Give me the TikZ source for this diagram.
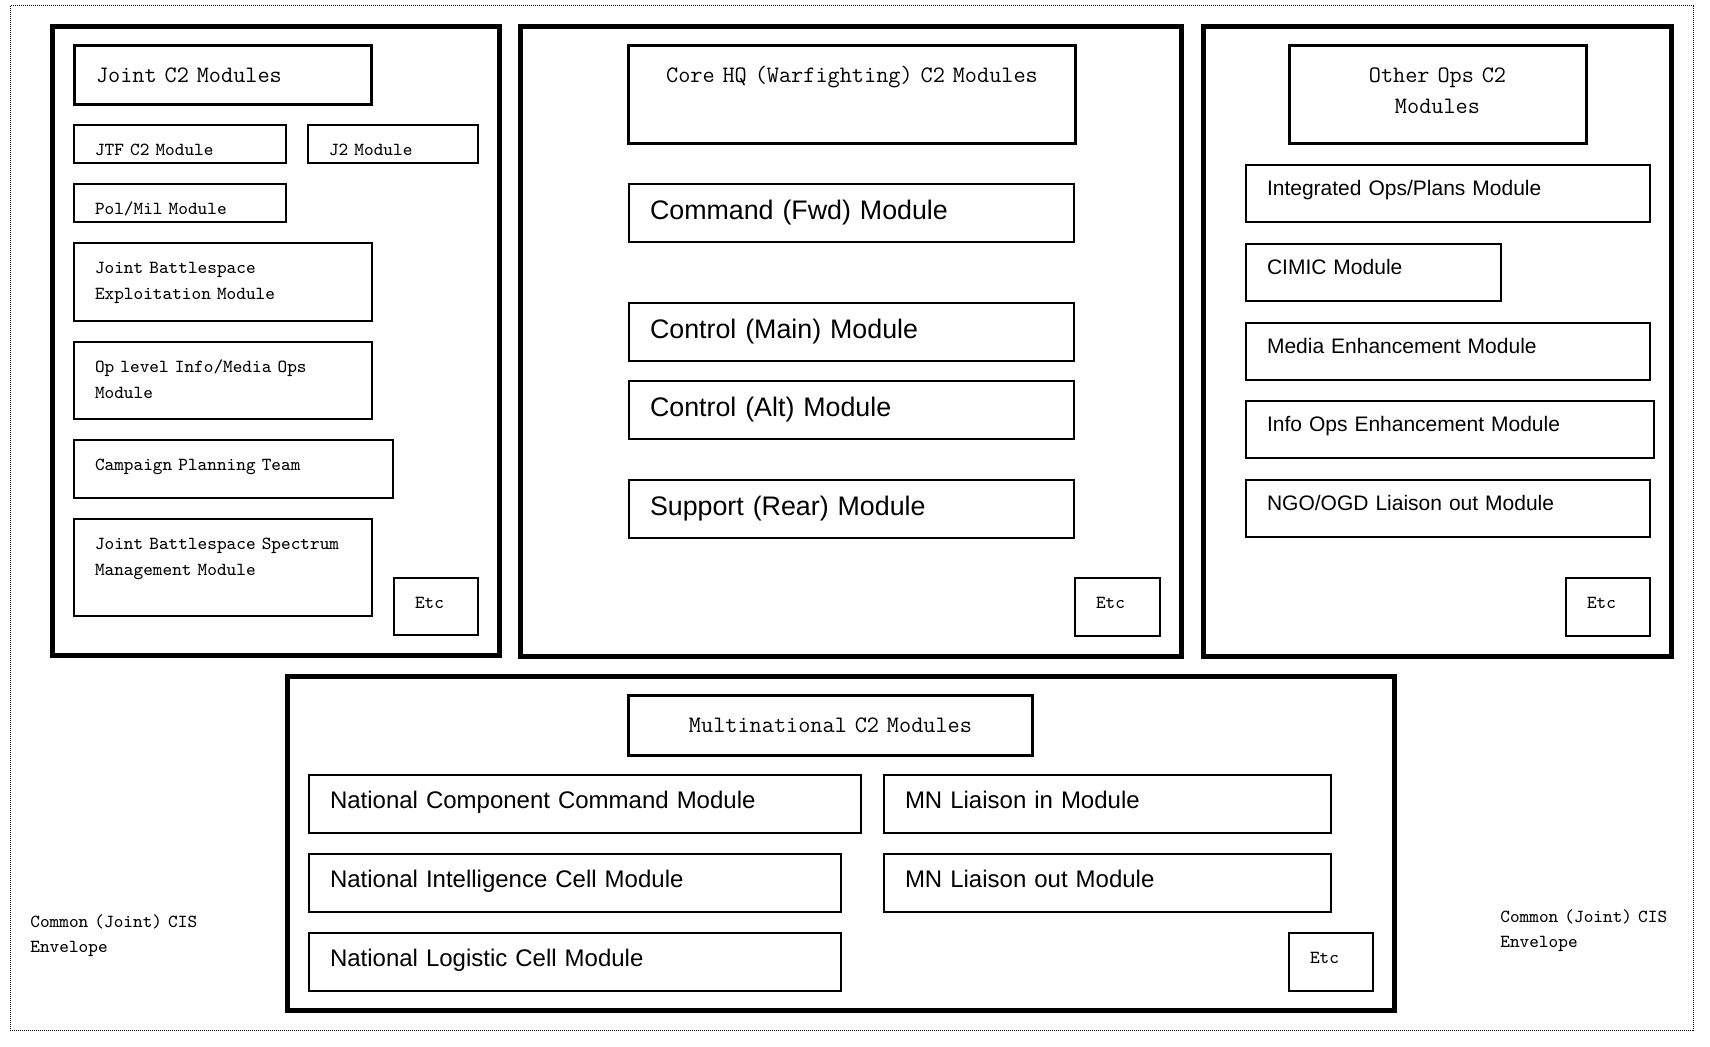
\documentclass[tikz,border=0pt]{standalone}
\usepackage{fontspec}
\setmainfont{Liberation Sans}

\begin{document}
\begin{tikzpicture}[x=0.5pt, y=-0.5pt,
    frame/.style={line width=2.5pt},
    envelope/.style={line width=0.5pt, dash pattern=on 0.5pt off 0.5pt},
    headbox/.style={draw, line width=1.5pt, anchor=north west, inner xsep=5pt, inner ysep=0pt, outer sep=0pt, align=center, text height=18.5pt, font=\ttfamily\fontsize{11.8}{15.5}\selectfont},
    modbox/.style={draw, line width=1pt, anchor=north west, inner xsep=10.5pt, inner ysep=0pt, outer sep=0pt, align=left},
    courbox/.style={modbox, text height=15.5pt, font=\ttfamily\fontsize{9.2}{13}\selectfont},
    corebox/.style={modbox, text width=201.5pt, text height=18pt, text depth=11pt, font=\fontsize{13.4}{16}\selectfont},
    opsbox/.style={modbox, text height=15.25pt, text depth=13.25pt, font=\fontsize{10.5}{12.5}\selectfont},
    mnbox/.style={modbox, text height=17pt, text depth=12pt, font=\fontsize{12}{14}\selectfont},
    etcbox/.style={courbox, text width=21pt, text depth=13.5pt},
    cistext/.style={anchor=base west, inner sep=0pt, text width=110pt, align=left, font=\ttfamily\fontsize{9.2}{12.5}\selectfont}
  ]
    \useasboundingbox (0,0) rectangle (1710,1047);

    % 外枠
    \draw[envelope] (10,6) rectangle (1693,1030);
    \draw[frame] (52.5,26.5) rectangle (499.5,655.5);
    \draw[frame] (520.5,26.5) rectangle (1181.5,656.5);
    \draw[frame] (1203.5,26.5) rectangle (1671.5,656.5);
    \draw[frame] (287.5,676.5) rectangle (1394.5,1010.5);

    % Joint
    \node[headbox, align=left, inner xsep=10.75pt, text width=127pt, text depth=11pt] (jointtitle) at (74.5, 45.5) {Joint C2 Modules};
    \node[courbox, text width=85pt, text depth=3.5pt] (jtfc) at (74, 125) {JTF C2 Module};
    \node[courbox, text width=64pt, text depth=3.5pt] (jtwo) at (308, 125) {J2 Module};
    \node[courbox, text width=85pt, text depth=3.5pt] (polmil) at (74, 184) {Pol/Mil Module};
    \node[courbox, text width=128pt, text depth=23.5pt] (jbexp) at (74, 243) {Joint Battlespace\\Exploitation Module};
    \node[courbox, text width=128pt, text depth=23pt] (opinfo) at (74, 342) {Op level Info/Media Ops\\Module};
    \node[courbox, text width=138.5pt, text depth=13.5pt] (campaign) at (74, 440) {Campaign Planning Team};
    \node[courbox, text width=128pt, text depth=33pt] (jbspec) at (74, 519) {Joint Battlespace Spectrum\\Management Module};
    \node[etcbox, text depth=13pt] (jointetc) at (394, 578) {Etc};

    % Core HQ
    \node[headbox, text width=213.5pt, text depth=30.5pt] (coretitle) at (628.5, 45.5) {Core HQ (Warfighting) C2 Modules};
    \node[corebox] (cmdfwd) at (629, 184) {Command (Fwd) Module};
    \node[corebox] (ctrlmain) at (629, 303) {Control (Main) Module};
    \node[corebox] (ctrlalt) at (629, 381) {Control (Alt) Module};
    \node[corebox] (suprear) at (629, 480) {Support (Rear) Module};
    \node[etcbox, text width=21.5pt] (coreetc) at (1075, 578) {Etc};

    % Other Ops
    \node[headbox, text width=138.5pt, text depth=30.5pt] (othertitle) at (1289, 45.5) {Other Ops C2\\Modules};
    \node[opsbox, text width=181pt] (intops) at (1246, 165) {Integrated Ops/Plans Module};
    \node[opsbox, text width=106.5pt] (cimic) at (1246, 244) {CIMIC Module};
    \node[opsbox, text width=181pt] (media) at (1246, 323) {Media Enhancement Module};
    \node[opsbox, text width=183pt] (infoops) at (1246, 401) {Info Ops Enhancement Module};
    \node[opsbox, text width=181pt] (ngo) at (1246, 480) {NGO/OGD Liaison out Module};
    \node[etcbox] (otheretc) at (1566, 578) {Etc};

    % Multinational
    \node[headbox, text width=192pt, text depth=11.5pt] (mntitle) at (628.5, 695.5) {Multinational C2 Modules};
    \node[mnbox, text width=255pt] (natcomp) at (309, 775) {National Component Command Module};
    \node[mnbox, text width=245pt] (natint) at (309, 854) {National Intelligence Cell Module};
    \node[mnbox, text width=245pt] (natlog) at (309, 933) {National Logistic Cell Module};
    \node[mnbox, text width=202.5pt] (mnin) at (884, 775) {MN Liaison in Module};
    \node[mnbox, text width=202.5pt] (mnout) at (884, 854) {MN Liaison out Module};
    \node[etcbox] (mnetc) at (1289, 933) {Etc};

    \node[cistext] (cisleft) at (30, 928) {Common (Joint) CIS\\Envelope};
    \node[cistext] (cisright) at (1500, 923) {Common (Joint) CIS\\Envelope};

  \end{tikzpicture}
\end{document}
